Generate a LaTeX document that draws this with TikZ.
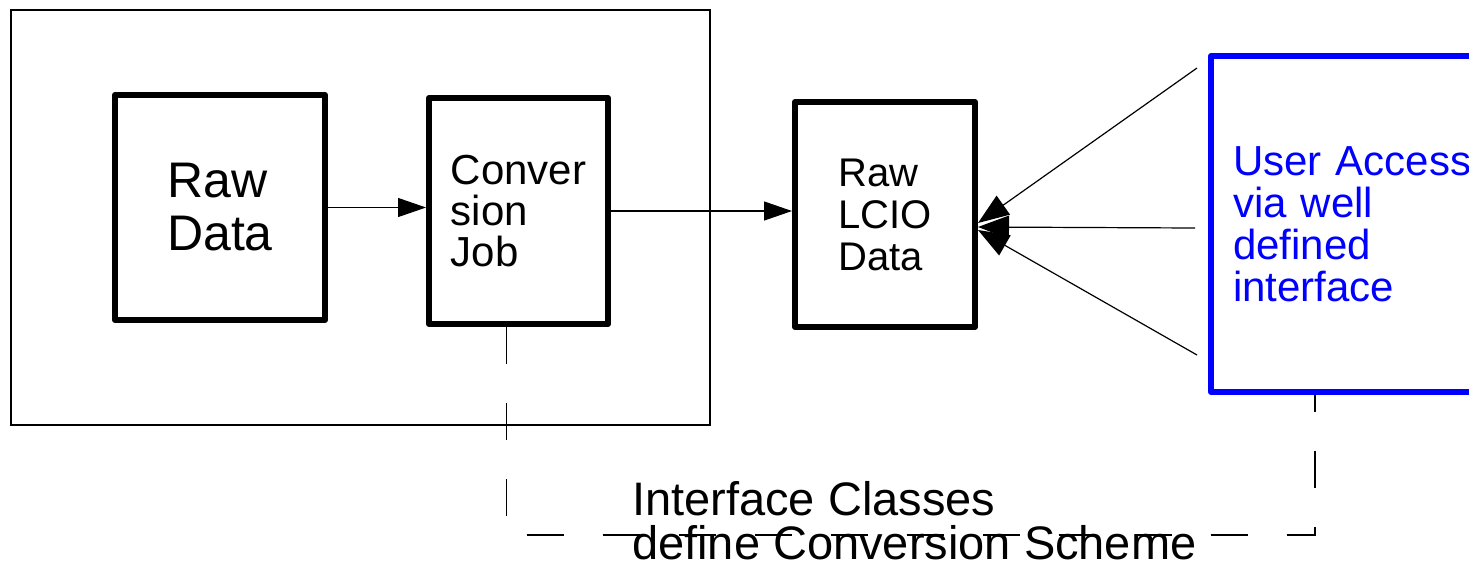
\documentclass[tikz,border=0pt]{standalone}
\usepackage{fontspec}
\setmainfont{Liberation Sans}
\usetikzlibrary{arrows.meta}
\usetikzlibrary{positioning}
\tikzstyle{block} = [draw=black, line width=6pt, line join=round, align=left, inner sep=0pt]
\tikzstyle{arrow} = [line width=1.2pt, -{Triangle[length=28pt,width=19pt]}]
\tikzstyle{frame} = [line width=1.2pt]
\tikzstyle{iface} = [line width=1.2pt, dash pattern=on 37pt off 39pt]
\begin{document}
\begin{tikzpicture}[x=1pt,y=-1pt]
\useasboundingbox (0,0) rectangle (1469,566);
\draw [frame] (11,10) rectangle (710,425);
\node [block, minimum width=210pt, minimum height=225pt, font={\fontsize{50}{53}\selectfont}] (rawdata) at (220,207.5) {Raw\\Data};
\node [block, minimum width=179pt, minimum height=226pt, font={\fontsize{42}{41}\selectfont}] (conv) at (518.5,211) {Conver\\sion\\Job};
\node [block, minimum width=180pt, minimum height=225pt, font={\fontsize{40}{42}\selectfont}] (lcio) at (885,214.5) {Raw\\LCIO\\Data};
\node [block, draw=blue, text=blue, anchor=north west, minimum height=336pt, text width=300pt, inner xsep=22pt, font={\fontsize{42}{42}\selectfont}] (user) at (1208,53) {User Access\\via well\\defined\\interface};
\node [anchor=base west, inner sep=0pt, text depth=0pt, align=left, font={\fontsize{47}{44}\selectfont}] (scheme) at (632,559) {Interface Classes\\define Conversion Scheme};
\draw [arrow] (rawdata.east) -- (rawdata.east -| conv.west);
\draw [arrow] (conv.east) -- (conv.east -| lcio.west);
\coordinate (ua) at (1197,68);
\coordinate (ub) at (1195,228);
\coordinate (uc) at (1197,355);
\foreach \c/\s in {ua/8.5,ub/12.5,uc/15.5}
  \draw [arrow, -{Triangle[length=31pt,width=23pt]}] (\c) -- ([yshift=-\s pt]lcio.east);
\coordinate (dashtop) at ([xshift=-12pt]conv.south);
\coordinate (dashcorner) at (1315,535);
\draw [iface] (dashtop) -- (dashtop |- dashcorner) -- (dashcorner) -- (dashcorner |- user.south);
\end{tikzpicture}
\end{document}
